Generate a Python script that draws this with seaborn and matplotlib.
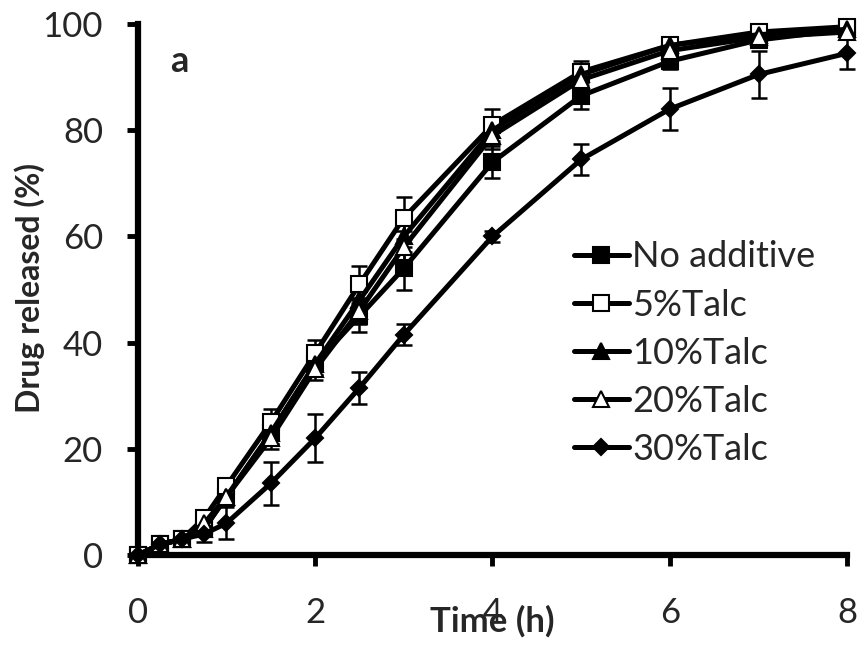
import matplotlib
matplotlib.use("Agg")
import matplotlib.pyplot as plt
import seaborn as sns
import numpy as np

time_h = [0, 0.25, 0.5, 0.75, 1, 1.5, 2, 2.5, 3, 4, 5, 6, 7, 8]

no_additive = [0, 2, 3, 5, 11, 23, 36, 45, 54, 74, 86.5, 93, 97, 99]
talc5 = [0, 2, 3, 7, 13, 25, 38, 51, 63.5, 81, 91, 96, 98.5, 99.5]
talc10 = [0, 2, 3, 5, 11, 23, 36, 48, 60, 80, 90.5, 96, 98, 99]
talc20 = [0, 2, 3, 6, 11, 22, 35, 46, 58, 79, 89.5, 95, 97.5, 98.5]
talc30 = [0, 2, 3, 4, 6, 13.5, 22, 31.5, 41.5, 60, 74.5, 84, 90.5, 94.5]

err_no = [0, 0.5, 0.5, 1, 1.5, 2, 2, 3, 4, 3, 2.5, 1.5, 1, 1]
err_5 = [0, 0.5, 0.5, 1, 1.5, 2.5, 2.5, 3.5, 4, 3, 2, 1.5, 1, 1]
err_10 = [0, 0.5, 0.5, 1, 1.5, 2, 2, 2.5, 3, 2.5, 2, 1.5, 1, 1]
err_20 = [0, 0.5, 0.5, 1, 1.5, 2, 2, 2.5, 3, 2.5, 2, 1.5, 1, 1]
err_30 = [0, 0.5, 0.5, 1.5, 3, 4, 4.5, 3, 2, 1, 3, 4, 4.5, 3]

labels = ["No additive", "5%Talc", "10%Talc", "20%Talc", "30%Talc"]
x_ticks = [0, 2, 4, 6, 8]
y_ticks = [0, 20, 40, 60, 80, 100]

series = [no_additive, talc5, talc10, talc20, talc30]
errors = [err_no, err_5, err_10, err_20, err_30]
markers = ["s", "s", "^", "^", "D"]
faces = ["black", "white", "black", "white", "black"]
msizes = [11, 12, 12, 12, 8]

sns.set_theme(style="white")
plt.rcParams["font.family"] = ["Lato", "DejaVu Sans"]

fig = plt.figure(figsize=(8.61, 6.5), dpi=100)
ax = fig.add_axes([0.160, 0.146, 0.824, 0.817])

for vals, err in zip(series, errors):
    ax.errorbar(time_h, vals, yerr=err, fmt="none", ecolor="black",
                elinewidth=1.8, capsize=6, capthick=1.8, zorder=2, clip_on=False)

for vals, lab, m, fc, ms in zip(series, labels, markers, faces, msizes):
    sns.lineplot(x=time_h, y=vals, ax=ax, color="black", lw=3.6,
                 marker=m, markersize=ms, markerfacecolor=fc,
                 markeredgecolor="black", markeredgewidth=1.5,
                 label=lab, clip_on=False, zorder=3)

ax.set_xlim(0, 8)
ax.set_ylim(0, 100)
ax.set_xticks(x_ticks)
ax.set_yticks(y_ticks)
ax.tick_params(axis="y", labelsize=25, direction="out", length=8, width=3.5,
               color="black", left=True, pad=17)
ax.tick_params(axis="x", labelsize=25, direction="out", length=8, width=3.5,
               color="black", bottom=True, pad=22)
for s in ["top", "right"]:
    ax.spines[s].set_visible(False)
for s in ["left", "bottom"]:
    ax.spines[s].set_linewidth(4.5)
    ax.spines[s].set_color("black")

ax.set_xlabel("Time (h)", fontsize=25, fontweight="bold", labelpad=-17)
ax.set_ylabel("Drug released (%)", fontsize=23, fontweight="bold")
ax.yaxis.set_label_coords(-0.131, 0.503)
ax.text(0.36, 93, "a", fontsize=26, fontweight="bold", va="center")

leg = ax.legend(loc="center left", bbox_to_anchor=(0.59, 0.38), frameon=False,
                fontsize=26, handlelength=1.5, handletextpad=0.1, labelspacing=0.42,
                borderpad=0)

fig.savefig("out.png", dpi=100)
